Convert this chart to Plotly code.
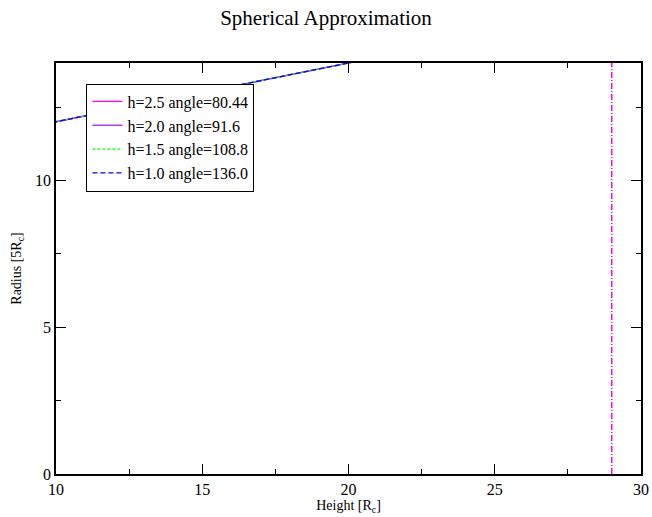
import plotly.graph_objects as go

heights = [8.0, 20.0, 22.0]
radius_h25 = [11.6, 14.0, 14.4]
radius_h20 = [11.6, 14.0, 14.4]
radius_h15 = [11.6, 14.0, 14.4]
radius_h10 = [11.6, 14.0, 14.4]
vert_x = [29.0, 29.0]
vert_y = [0.0, 14.0]

names = ["h=2.5 angle=80.44", "h=2.0 angle=91.6", "h=1.5 angle=108.8", "h=1.0 angle=136.0"]
colors = ["#ff00ff", "#b040e8", "#00ff00", "#0000ff"]
dashes = ["solid", "solid", "3px,2px", "5px,3px"]
series = [radius_h25, radius_h20, radius_h15, radius_h10]

fig = go.Figure()
fig.add_trace(go.Scatter(x=vert_x, y=vert_y, mode="lines", showlegend=False,
                         line=dict(color="#ff00ff", width=1.5, dash="6px,2px,1px,2px")))
for n, c, d, s in zip(names, colors, dashes, series):
    fig.add_trace(go.Scatter(x=heights, y=s, mode="lines", name=n,
                             line=dict(color=c, width=1.3, dash=d)))

font = "Liberation Serif, Times New Roman, serif"
axis_common = dict(showgrid=False, zeroline=False, showline=True, linecolor="black",
                   linewidth=1.5, mirror="allticks", ticks="inside", ticklen=10,
                   tickcolor="black", tickwidth=1, automargin=False,
                   tickfont=dict(family=font, size=16, color="black"))
fig.update_xaxes(range=[10, 30], tickvals=[10, 15, 20, 25, 30],
                 minor=dict(tickvals=[12.5, 17.5, 22.5, 27.5], ticklen=5, ticks="inside", tickcolor="black"),
                 title=dict(text="Height [R<sub>c</sub>]", font=dict(family=font, size=14, color="black"), standoff=2),
                 **axis_common)
fig.update_yaxes(range=[0, 14], tickvals=[0, 5, 10],
                 minor=dict(tickvals=[2.5, 7.5, 12.5], ticklen=5, ticks="inside", tickcolor="black"),
                 title=dict(text="Radius [5R<sub>c</sub>]", font=dict(family=font, size=14, color="black"), standoff=10),
                 **axis_common)
fig.update_layout(
    width=652, height=517,
    margin=dict(l=56, r=11, t=63, b=43),
    paper_bgcolor="white", plot_bgcolor="white",
    title=dict(text="Spherical Approximation", x=0.5, xanchor="center", y=0.965, yanchor="middle",
               font=dict(family=font, size=21, color="black"), automargin=False),
    legend=dict(x=0.052, y=0.95, xanchor="left", yanchor="top", bgcolor="white",
                bordercolor="black", borderwidth=1,
                font=dict(family=font, size=16, color="black"), tracegroupgap=0),
)
fig.write_html("out.html")
